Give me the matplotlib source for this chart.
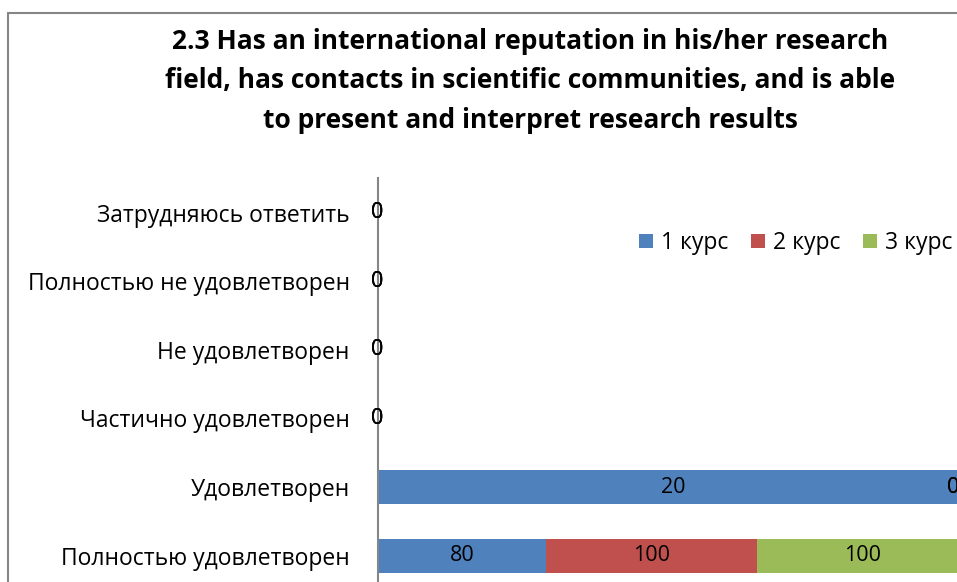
import numpy as np
import matplotlib
matplotlib.use("Agg")
import matplotlib.pyplot as plt
from matplotlib.patches import Rectangle
from matplotlib.transforms import offset_copy

plt.rcParams['font.family'] = ['Open Sans', 'DejaVu Sans']

# categories from bottom to top (as Excel draws them)
categories = ["Полностью удовлетворен", "Удовлетворен", "Частично удовлетворен",
              "Не удовлетворен", "Полностью не удовлетворен", "Затрудняюсь ответить"]
series = ["1 курс", "2 курс", "3 курс"]
kurs1 = [80, 20, 0, 0, 0, 0]
kurs2 = [100, 0, 0, 0, 0, 0]
kurs3 = [100, 0, 0, 0, 0, 0]
colors = ["#4F81BD", "#C0504D", "#9BBB59"]

title = ("2.3 Has an international reputation in his/her research\n"
         "field, has contacts in scientific communities, and is able\n"
         "to present and interpret research results")

W, H = 957, 582
fig = plt.figure(figsize=(W / 100, H / 100), dpi=100)

def fx(px):
    return px / W

def fy(py):
    return 1 - py / H

# outer chart frame (cut by the screenshot on the right and bottom)
fig.patches.append(Rectangle((fx(8), fy(600)), 1.2, fy(13) - fy(600),
                             transform=fig.transFigure, fill=False,
                             edgecolor="#868686", linewidth=1.5))

fig.text(fx(530), fy(81), title, ha="center", va="center",
         fontsize=19, fontweight="bold", linespacing=1.6)

ax = fig.add_axes([fx(377.5), fy(590), fx(968.5) - fx(377.5), fy(178.3) - fy(590)])

data = np.array([kurs1, kurs2, kurs3], dtype=float)
totals = data.sum(axis=0)
share = np.divide(data, totals, out=np.zeros_like(data), where=totals > 0)

# zero-width labels sitting at the far end are nudged inwards like Excel does
end_shift = offset_copy(ax.transData, fig=fig, x=-15, y=0, units="dots")

y = np.arange(len(categories))
left = np.zeros(len(categories))
for i in range(len(series)):
    ax.barh(y, share[i], left=left, height=0.5, color=colors[i], label=series[i])
    for j in range(len(categories)):
        xc = left[j] + share[i][j] / 2
        tr = end_shift if (share[i][j] == 0 and xc > 0.99) else ax.transData
        ax.text(xc, y[j], "{:g}".format(data[i][j]), ha="center", va="center",
                fontsize=15.5, color="black", clip_on=False, transform=tr)
    left = left + share[i]

ax.set_xlim(0, 1)
ax.set_ylim(-0.5, len(categories) - 0.5)
ax.set_yticks(y)
ax.set_yticklabels(categories, fontsize=16.5)
ax.tick_params(axis="y", length=0, pad=20)
ax.set_xticks([])
for s in ["top", "right", "bottom"]:
    ax.spines[s].set_visible(False)
ax.spines["left"].set_color("#868686")
ax.spines["left"].set_linewidth(1.5)

fig.legend(loc="center left", bbox_to_anchor=(fx(639), fy(243)), ncol=3,
           frameon=False, fontsize=16.5, handlelength=0.6, handleheight=0.6,
           handletextpad=0.35, columnspacing=1.0, borderaxespad=0, borderpad=0)

fig.savefig("out.png", dpi=100)
